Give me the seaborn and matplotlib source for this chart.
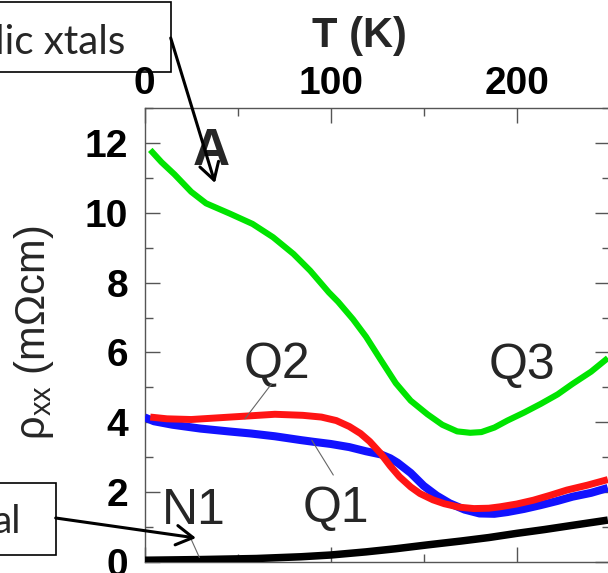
import matplotlib
matplotlib.use("Agg")
import matplotlib.pyplot as plt
from matplotlib.patches import Rectangle
from matplotlib.ticker import MultipleLocator
import pandas as pd
import seaborn as sns

# Resistivity vs temperature for four samples
q3_T = [3, 9, 16, 25, 33, 46, 58, 69, 80, 89, 99, 104, 112, 119, 127, 135, 143,
        152, 160, 168, 175, 181, 188, 195, 204, 213, 222, 230, 240, 249]
q3_rho = [11.80, 11.45, 11.10, 10.60, 10.27, 9.97, 9.68, 9.30, 8.82, 8.34, 7.72,
          7.45, 6.95, 6.45, 5.78, 5.12, 4.62, 4.23, 3.93, 3.74, 3.70, 3.72, 3.85,
          4.05, 4.28, 4.53, 4.80, 5.10, 5.45, 5.84]

q2_T = [3, 12, 25, 40, 55, 70, 85, 95, 103, 110, 116, 121, 127, 132, 137, 143,
        148, 155, 161, 169, 177, 185, 191, 200, 209, 218, 227, 238, 249]
q2_rho = [4.15, 4.10, 4.08, 4.13, 4.18, 4.23, 4.20, 4.15, 4.05, 3.88, 3.68, 3.45,
          3.10, 2.75, 2.44, 2.15, 1.96, 1.78, 1.67, 1.57, 1.53, 1.54, 1.58, 1.66,
          1.77, 1.91, 2.06, 2.20, 2.36]

q1_T = [0, 5, 15, 30, 45, 57, 70, 84, 91, 100, 110, 119, 127, 132, 136, 143, 150,
        157, 164, 172, 180, 188, 195, 204, 213, 222, 230, 240, 249]
q1_rho = [4.14, 4.03, 3.93, 3.82, 3.74, 3.68, 3.60, 3.49, 3.44, 3.38, 3.29, 3.17,
          3.08, 2.97, 2.84, 2.55, 2.18, 1.90, 1.68, 1.50, 1.39, 1.38, 1.43, 1.52,
          1.63, 1.75, 1.87, 1.98, 2.12]

n1_T = [0, 30, 60, 84, 100, 119, 135, 152, 170, 185, 200, 215, 230, 249]
n1_rho = [0.05, 0.07, 0.10, 0.15, 0.20, 0.29, 0.38, 0.49, 0.60, 0.70, 0.82, 0.93,
          1.05, 1.20]

samples = ["Q3", "Q1", "Q2", "N1"]
colors = {"Q3": "#00e400", "Q1": "#1212ff", "Q2": "#ff1414", "N1": "#000000"}
widths = {"Q3": 4.4, "Q1": 5.8, "Q2": 5.0, "N1": 5.4}

frames = []
for name, T, rho in [("Q3", q3_T, q3_rho), ("Q1", q1_T, q1_rho),
                     ("Q2", q2_T, q2_rho), ("N1", n1_T, n1_rho)]:
    frames.append(pd.DataFrame({"T": T, "rho": rho, "sample": name}))
df = pd.concat(frames, ignore_index=True)

sns.set_style("ticks")
plt.rcParams["font.family"] = ["Liberation Sans", "DejaVu Sans"]
plt.rcParams["mathtext.fontset"] = "custom"
plt.rcParams["mathtext.rm"] = "Liberation Sans"
plt.rcParams["mathtext.it"] = "Liberation Sans:italic"
plt.rcParams["mathtext.bf"] = "Liberation Sans:bold"

W, H = 608, 573
fig = plt.figure(figsize=(W / 100, H / 100), dpi=100)
ax = fig.add_axes([144.7 / W, (H - 562) / H, 465 / W, 454 / H])

for z, name in enumerate(samples):
    sub = df[df["sample"] == name]
    sns.lineplot(data=sub, x="T", y="rho", color=colors[name], lw=widths[name],
                 estimator=None, sort=False, ax=ax, zorder=3 + z,
                 solid_joinstyle="round", solid_capstyle="butt")

ax.set_xlim(0, 250)
ax.set_ylim(0, 13)
ax.xaxis.set_major_locator(MultipleLocator(100))
ax.xaxis.set_minor_locator(MultipleLocator(50))
ax.yaxis.set_major_locator(MultipleLocator(2))
ax.yaxis.set_minor_locator(MultipleLocator(1))

spine_col = "#555555"
for s in ax.spines.values():
    s.set_color(spine_col)
    s.set_linewidth(1.0)
ax.tick_params(which="both", direction="in", top=True, right=True,
               labeltop=True, labelbottom=False, color=spine_col,
               labelcolor="black", width=1.0, labelsize=28)
ax.tick_params(which="major", length=10.8)
ax.tick_params(which="minor", length=6.0)
ax.tick_params(axis="y", pad=12)
ax.tick_params(axis="x", pad=4)
for lbl in ax.get_xticklabels() + ax.get_yticklabels():
    lbl.set_fontweight("bold")

ax.set_xlabel("T (K)", fontsize=30, fontweight="bold")
ax.xaxis.set_label_position("top")
ax.xaxis.set_label_coords(0.461, 1.135)
ax.set_ylabel("ρ$_{\\mathrm{xx}}$ (mΩcm)", fontsize=30)
ax.yaxis.set_label_coords(-0.19, 0.504)

# sample labels with thin leader lines
for txt, tx, ty in [("Q2", 53, 5.28), ("Q3", 185, 5.25),
                    ("Q1", 85, 1.14), ("N1", 9.5, 1.08)]:
    ax.text(tx, ty, txt, fontsize=36, ha="left", va="baseline", zorder=10)

for (x0, y0), (x1, y1) in [((68.2, 5.1), (53.9, 4.1)),
                           ((101.4, 2.49), (89.8, 3.49)),
                           ((24.4, 0.72), (29.4, 0.13))]:
    ax.annotate("", xy=(x1, y1), xytext=(x0, y0),
                arrowprops=dict(arrowstyle="-", color="#666666", lw=0.8,
                                shrinkA=0, shrinkB=0), zorder=11)

# call-out boxes
box_kw = dict(transform=None, facecolor="white", edgecolor="black",
              linewidth=1.2, zorder=-1)
fig.add_artist(Rectangle((-10, H - 72), 181, 70, **box_kw))
fig.add_artist(Rectangle((-10, H - 555), 65.7, 72, **box_kw))
fig.text(125.5 / W, 1 - 54 / H, "lic xtals", ha="right", va="baseline",
         fontsize=29, family="Lato", zorder=0)
fig.text(21.5 / W, 1 - 533 / H, "al", ha="right", va="baseline",
         fontsize=28, family="Lato", zorder=0)

ax.annotate("A", xy=(193, H - 165), xycoords="figure pixels", ha="left",
            va="baseline", fontsize=37, fontweight="bold", zorder=12,
            annotation_clip=False)

arrow_kw = dict(arrowstyle="->,head_length=0.6,head_width=0.35", lw=2.2,
                color="black", shrinkA=0, shrinkB=0, mutation_scale=20)
ax.annotate("", xy=(215, H - 183), xytext=(170.7, H - 38),
            xycoords="figure pixels", textcoords="figure pixels",
            arrowprops=arrow_kw, annotation_clip=False, zorder=13)
ax.annotate("", xy=(196, H - 538), xytext=(55.7, H - 518),
            xycoords="figure pixels", textcoords="figure pixels",
            arrowprops=arrow_kw, annotation_clip=False, zorder=13)

fig.savefig("out.png", dpi=100)
